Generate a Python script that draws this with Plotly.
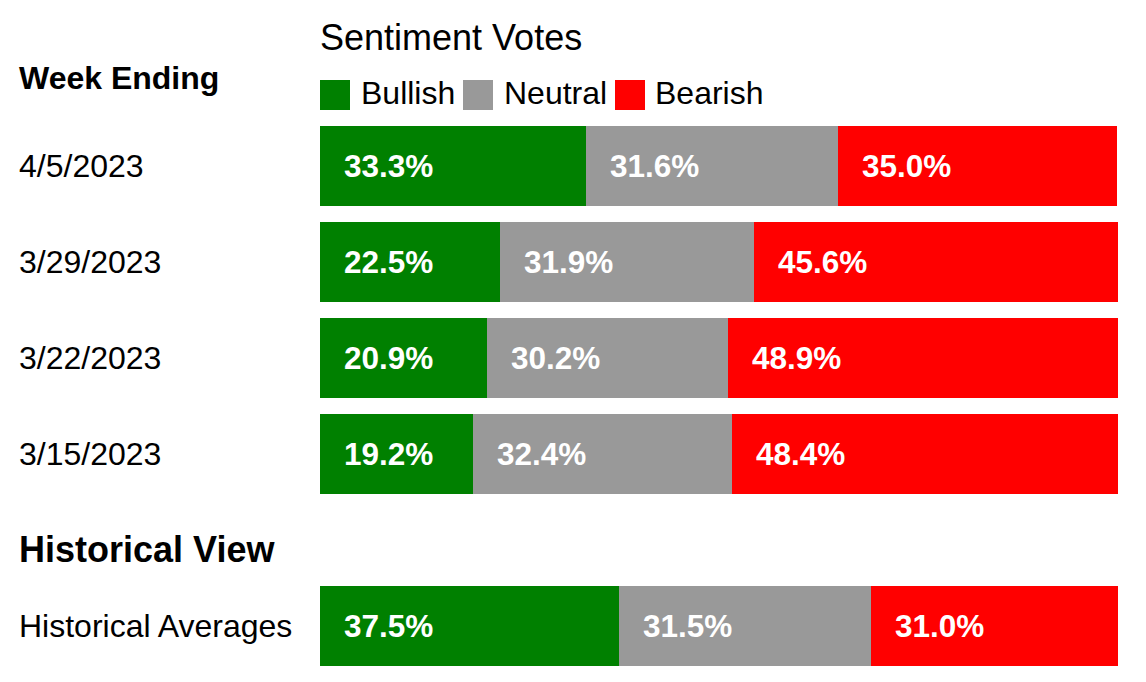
import plotly.graph_objects as go

# data
weeks = ["4/5/2023", "3/29/2023", "3/22/2023", "3/15/2023"]
bullish = [33.3, 22.5, 20.9, 19.2]
neutral = [31.6, 31.9, 30.2, 32.4]
bearish = [35.0, 45.6, 48.9, 48.4]

hist_rows = ["Historical Averages"]
hist_bullish = [37.5]
hist_neutral = [31.5]
hist_bearish = [31.0]

series_names = ["Bullish", "Neutral", "Bearish"]
colors = ["#008000", "#999999", "#FF0000"]

# the page body has an 8px margin, so the figure is a bit smaller
OFF = 8
W, H = 1146 - OFF, 682 - OFF
FONT = "Liberation Sans, Arial, sans-serif"


def px_x(x):
    return (x - OFF) / W


def px_y(y):
    return 1 - (y - OFF) / H


fig = go.Figure()

annotations = []


def add_block(rows, groups, xa, ya):
    # stacked bars plus white bold value labels at the start of each segment
    base = [0.0] * len(rows)
    for name, vals, col in zip(series_names, groups, colors):
        fig.add_trace(go.Bar(
            y=rows, x=vals, name=name, orientation="h",
            marker=dict(color=col, line=dict(width=0)),
            xaxis=xa, yaxis=ya, showlegend=False, hoverinfo="y+x+name",
        ))
        for r, v, b in zip(rows, vals, base):
            annotations.append(dict(
                x=b, y=r, xref=xa, yref=ya, text="<b>%.1f%%</b>" % v,
                showarrow=False, xanchor="left", yanchor="middle", xshift=22,
                font=dict(color="white", size=31.5, family=FONT),
            ))
        base = [b + v for b, v in zip(base, vals)]
    # row labels, left aligned at the page edge
    for r in rows:
        annotations.append(dict(
            x=px_x(17), y=r, xref="paper", yref=ya, text=r,
            showarrow=False, xanchor="left", yanchor="middle",
            font=dict(color="black", size=32, family=FONT),
        ))


add_block(weeks, [bullish, neutral, bearish], "x", "y")
add_block(hist_rows, [hist_bullish, hist_neutral, hist_bearish], "x2", "y2")

# headers
annotations.append(dict(x=px_x(17), y=px_y(78), xref="paper", yref="paper",
                        text="<b>Week Ending</b>", showarrow=False,
                        xanchor="left", yanchor="middle",
                        font=dict(size=32, color="black", family=FONT)))
annotations.append(dict(x=px_x(17), y=px_y(549), xref="paper", yref="paper",
                        text="<b>Historical View</b>", showarrow=False,
                        xanchor="left", yanchor="middle",
                        font=dict(size=36, color="black", family=FONT)))
annotations.append(dict(x=px_x(318), y=px_y(38), xref="paper", yref="paper",
                        text="Sentiment Votes", showarrow=False,
                        xanchor="left", yanchor="middle",
                        font=dict(size=36, color="black", family=FONT)))

# legend drawn as swatches + labels
shapes = []
legend_sq = [320, 463, 615]
legend_tx = [359, 502, 653]
for name, col, sx, tx in zip(series_names, colors, legend_sq, legend_tx):
    shapes.append(dict(type="rect", xref="paper", yref="paper",
                       x0=px_x(sx), x1=px_x(sx + 30), y0=px_y(110), y1=px_y(80),
                       fillcolor=col, line=dict(width=0)))
    annotations.append(dict(x=px_x(tx), y=px_y(93), xref="paper", yref="paper",
                            text=name, showarrow=False, xanchor="left",
                            yanchor="middle",
                            font=dict(size=32, color="black", family=FONT)))

axis_x = dict(range=[0, 100], showgrid=False, zeroline=False,
              showticklabels=False, showline=False, fixedrange=True)
fig.update_layout(
    width=W, height=H,
    margin=dict(l=0, r=0, t=0, b=0),
    paper_bgcolor="white", plot_bgcolor="white",
    barmode="stack", bargap=1 / 6,
    font=dict(family=FONT, size=32, color="black"),
    xaxis=dict(domain=[px_x(320), px_x(1118)], anchor="y", **axis_x),
    xaxis2=dict(domain=[px_x(320), px_x(1118)], anchor="y2", **axis_x),
    yaxis=dict(domain=[px_y(502), px_y(118)], anchor="x", autorange="reversed",
               showticklabels=False, showgrid=False, zeroline=False),
    yaxis2=dict(domain=[px_y(674), px_y(578)], anchor="x2",
                showticklabels=False, showgrid=False, zeroline=False),
    annotations=annotations,
    shapes=shapes,
    showlegend=False,
)

fig.write_html("out.html")
